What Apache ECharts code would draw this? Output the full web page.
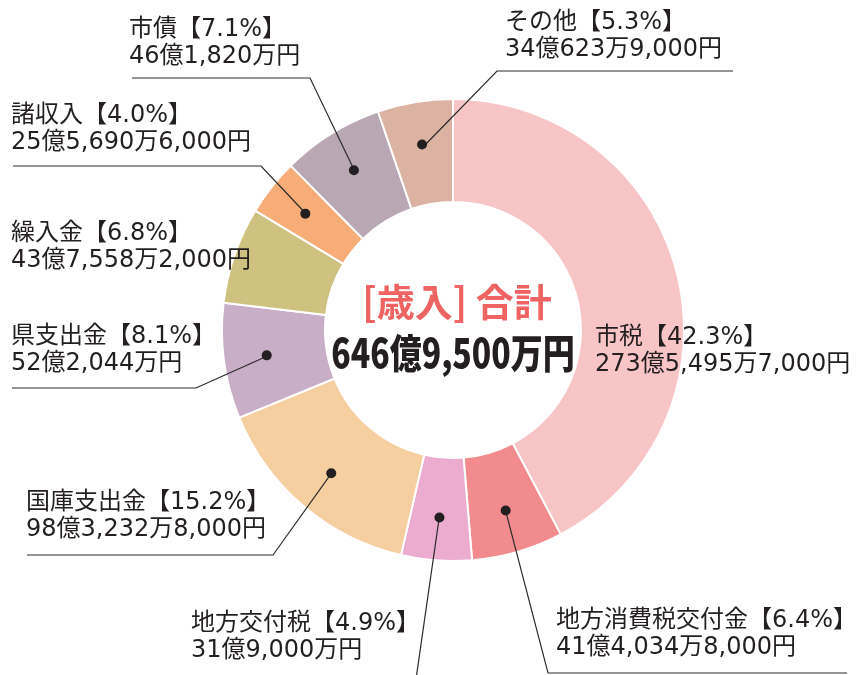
<!DOCTYPE html>
<html><head><meta charset="utf-8">
<script src="https://cdn.jsdelivr.net/npm/echarts@6/dist/echarts.min.js"></script>
<style>html,body{margin:0;padding:0;background:#fff}#c{width:867px;height:675px}</style>
</head><body><div id="c"></div>
<script>
// ---- data ----
const categories = ['市税','地方消費税交付金','地方交付税','国庫支出金','県支出金','繰入金','諸収入','市債','その他'];
const amounts = [27354957000, 4140348000, 3190000000, 9832328000, 5220440000, 4375582000, 2556906000, 4618200000, 3406239000]; // 円
const colors = ['#f8c5c7','#f28b8d','#ebaccf','#f6cfa0','#c8aec7','#cfc280','#f8ad78','#b9a7b3','#dcb3a3'];
const hasLeader = [false,true,true,true,true,false,true,true,true];
const centerTitle = '[歳入] 合計';

// ---- label placement (annotation layout) ----
// [textLeft, textTop, elbow point, end point]
const labelPlace = [
  [595, 324, null, null],
  [556, 607, [548,673], [847,673]],
  [191, 610, [413,700], null],
  [26, 489, [273,555], [27,555]],
  [11, 323, [196,388], [12,388]],
  [11, 220, null, null],
  [11, 102, [261,166], [13,166]],
  [129, 16, [310,78], [132,78]],
  [505, 9, [497,71], [733,71]]
];

const FONT = "'DejaVu Sans', 'Noto Sans CJK JP', sans-serif";
const total = amounts.reduce((a,b)=>a+b,0);

function fmtYen(v){
  const oku = Math.floor(v/1e8);
  const man = Math.floor((v%1e8)/1e4);
  const yen = v%1e4;
  let s='';
  if(oku) s+=oku+'億';
  if(man) s+=man.toLocaleString('en-US')+'万';
  if(yen) s+=yen.toLocaleString('en-US');
  return s+'円';
}
function pct(v){ return (v/total*100).toFixed(1); }

const chart = echarts.init(document.getElementById('c'));

// leader start = centre of the dot, taken from the dot ring's own sector layout
function dotPoint(idx){
  try {
    const lay = chart.getModel().getSeriesByIndex(2).getData().getItemLayout(idx);
    const mid = (lay.startAngle + lay.endAngle)/2;
    const rr = (lay.r + lay.r0)/2;
    const p = [lay.cx + rr*Math.cos(mid), lay.cy + rr*Math.sin(mid)];
    if (isFinite(p[0]) && isFinite(p[1])) return p;
  } catch(e){}
  return null;
}

chart.setOption({
  animation:false,
  color: colors,
  series:[
    {
      type:'pie', z:2, radius:[128,231], center:[453,330], startAngle:90, clockwise:true,
      silent:true, avoidLabelOverlap:false,
      itemStyle:{borderColor:'#fff', borderWidth:2},
      label:{show:false}, labelLine:{show:false},
      data: categories.map((n,i)=>({name:n, value:amounts[i]}))
    },
    {
      type:'pie', z:5, radius:[0,185], center:[453,330], startAngle:90, clockwise:true,
      silent:true, avoidLabelOverlap:false,
      itemStyle:{color:'rgba(0,0,0,0)'},
      label:{
        show:true, position:'outside', fontFamily:FONT, fontSize:24, lineHeight:27,
        color:'#231f20',
        formatter: p => categories[p.dataIndex]+'【'+pct(amounts[p.dataIndex])+'%】\n'+fmtYen(amounts[p.dataIndex])
      },
      labelLine:{show:true, length:10, length2:10, lineStyle:{color:'#2a2a2a', width:1.2}},
      labelLayout: function(params){
        const i = params.dataIndex;
        const lp = labelPlace[i];
        const out = {x:lp[0], y:lp[1], align:'left', verticalAlign:'top'};
        if (hasLeader[i] && params.labelLinePoints){
          const start = dotPoint(i) || params.labelLinePoints[0];
          const pts = [start, lp[2]];
          if (lp[3]) pts.push(lp[3]);
          out.labelLinePoints = pts;
        }
        return out;
      },
      data: categories.map((n,i)=>({name:n, value:amounts[i], labelLine:{show:hasLeader[i]}}))
    },
    {
      type:'pie', z:6, radius:[175,195], center:[453,330], startAngle:90, clockwise:true,
      silent:true, avoidLabelOverlap:false,
      itemStyle:{color:'rgba(0,0,0,0)'},
      label:{
        show:true, position:'inside', formatter:'{d|}',
        rich:{d:{width:10,height:10,borderRadius:5,backgroundColor:'#231f20'}}
      },
      labelLine:{show:false},
      data: categories.map((n,i)=>({name:n, value:amounts[i], label:{show:hasLeader[i]}}))
    }
  ],
  graphic:[
    {type:'text', x:457, y:302, z:10, style:{text:centerTitle, align:'center', verticalAlign:'middle',
      font:"bold 38px 'Noto Sans CJK JP', sans-serif", fill:'#ef6363'}},
    {type:'text', x:453, y:353, scaleX:0.8, z:10, style:{text:fmtYen(total), align:'center', verticalAlign:'middle',
      font:"900 40px 'Noto Sans CJK JP', sans-serif", fill:'#231f20',
      stroke:'#fff', lineWidth:7, strokeFirst:true,
      shadowColor:'rgba(0,0,0,0.45)', shadowBlur:8, shadowOffsetX:2, shadowOffsetY:3}}
  ]
});
</script>
</body></html>
